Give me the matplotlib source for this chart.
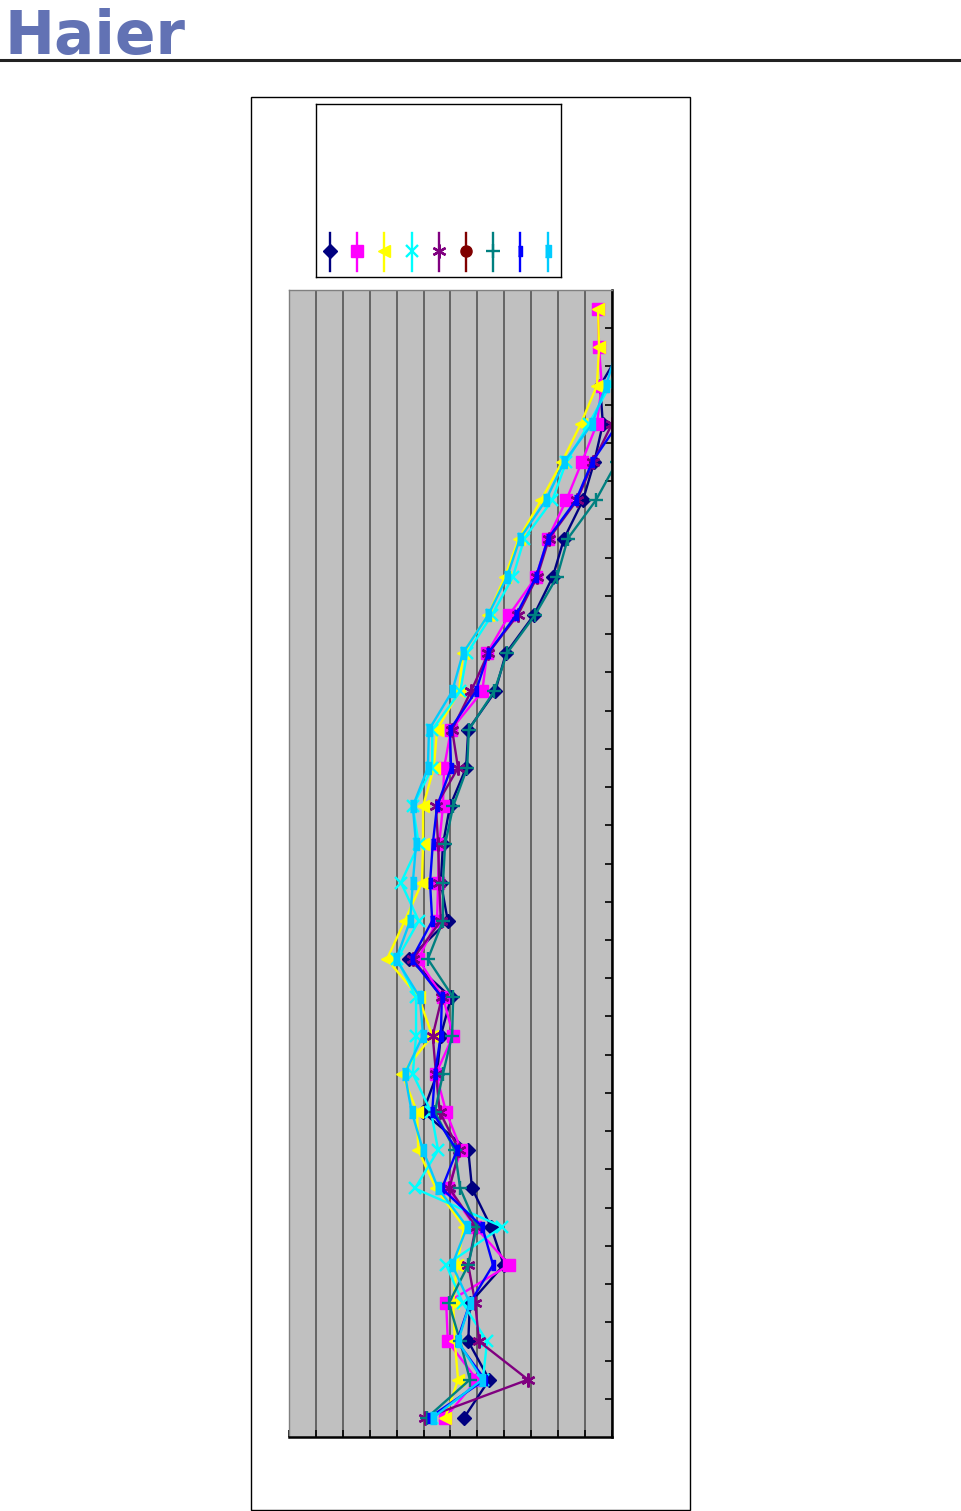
import numpy as np
import matplotlib
matplotlib.use("Agg")
import matplotlib.pyplot as plt
from matplotlib.patches import Rectangle

# 30 bands, read top to bottom (chart is drawn rotated)
bands = list(range(30))

# levels (x axis 0..60, gridline every 5)
navy = [64, 62, 57.8, 58.3, 56.7, 54.6, 51.1, 49.0, 45.5, 40.3, 38.3, 33.3, 32.9, 29.9, 28.6,
        28.2, 29.5, 22.3, 30.1, 28.2, 27.5, 24.9, 33.3, 34.0, 37.5, 39.9, 33.6, 33.3, 37.2, 32.5]
magenta = [57.4, 57.6, 58.1, 57.2, 54.4, 51.5, 48.1, 45.9, 40.9, 36.8, 35.9, 30.1, 28.8, 28.6, 27.9,
           27.7, 27.5, 24.0, 28.6, 30.5, 27.3, 29.2, 32.0, 29.5, 34.6, 40.9, 29.2, 29.5, 34.9, 29.0]
yellow = [57.4, 57.6, 57.2, 54.2, 50.7, 46.8, 42.7, 40.1, 37.0, 32.3, 31.6, 27.5, 26.9, 24.9, 24.9,
          24.7, 21.5, 18.2, 24.1, 26.6, 21.0, 23.8, 24.0, 27.3, 32.5, 31.2, 30.5, 30.8, 31.4, 29.0]
cyan = [64, 62, 59.6, 55.7, 51.5, 48.9, 43.7, 41.6, 37.7, 33.1, 31.8, 26.6, 26.6, 23.0, 24.1,
        20.8, 24.1, 20.1, 23.6, 23.6, 23.0, 26.4, 27.7, 23.4, 39.6, 29.2, 32.3, 36.8, 36.0, 26.6]
purple = [66, 65, 63, 60.0, 56.5, 53.5, 48.3, 46.1, 42.5, 37.0, 33.8, 30.3, 31.4, 27.3, 27.7,
          27.9, 28.2, 23.0, 28.4, 26.7, 27.3, 28.0, 31.6, 29.8, 34.7, 33.3, 34.6, 35.3, 44.4, 25.3]
maroon = [np.nan] * 30
teal = [68, 67, 65, 63, 60.9, 57.0, 51.8, 49.8, 45.7, 40.5, 38.1, 33.4, 33.1, 30.5, 29.0,
        28.6, 28.6, 25.8, 30.5, 30.3, 28.6, 27.1, 30.8, 31.8, 34.9, 33.3, 29.7, 31.8, 33.6, 25.6]
blue = [66, 64, 63, 61.1, 56.3, 53.3, 48.1, 45.9, 42.2, 37.0, 34.7, 29.9, 30.1, 27.5, 26.7,
        26.2, 26.6, 22.8, 28.4, 28.2, 27.1, 26.6, 31.2, 28.4, 35.9, 37.9, 33.6, 31.2, 36.4, 26.0]
lightblue = [63, 61, 58.9, 56.3, 51.1, 47.7, 42.9, 40.5, 37.0, 32.3, 30.3, 26.0, 25.8, 23.0, 23.6,
             23.0, 22.5, 19.9, 24.3, 24.9, 21.5, 22.8, 24.9, 27.7, 33.1, 30.3, 33.6, 31.4, 35.9, 26.7]

bar_s = [(-0.35, -1), (0.35, -1), (0.35, 1), (-0.35, 1)]
bar_l = [(-0.42, -1), (0.42, -1), (0.42, 1), (-0.42, 1)]

series = [
    (navy, "#000080", "D", 7, 1),
    (magenta, "#FF00FF", "s", 8, 1),
    (yellow, "#FFFF00", "<", 9, 1),
    (cyan, "#00FFFF", "x", 8, 1.7),
    (purple, "#800080", (6, 2, 0), 10, 1.7),
    (maroon, "#800000", "o", 8, 1),
    (teal, "#008080", "+", 10, 1.7),
    (blue, "#0000FF", bar_s, 7, 1),
    (lightblue, "#00CCFF", bar_l, 9, 1),
]

W, H = 962, 1511
fig = plt.figure(figsize=(W / 100, H / 100), dpi=100)

# header
fig.text(4 / W, 1 - 54 / H, "Haier", fontsize=43, fontweight="bold",
         color="#6272B4", family="DejaVu Sans", va="baseline", ha="left")
fig.add_artist(plt.Line2D([0, 1], [1 - 60 / H, 1 - 60 / H], color="#222222", lw=2.2,
                          transform=fig.transFigure))
# outer chart frame
fig.add_artist(Rectangle((251 / W, 1 - 1510 / H), 439 / W, 1413 / H, fill=False,
                         ec="black", lw=1, transform=fig.transFigure))

ax = fig.add_axes([289 / W, 1 - 1437 / H, 323 / W, 1147 / H])
ax.set_facecolor("#C0C0C0")
y = np.array(bands)
for vals, col, mk, ms, mew in series:
    ax.plot(vals, y, color=col, lw=1.7, marker=mk, ms=ms, mew=mew,
            mec=col, mfc=col)

ax.set_xlim(0, 60)
ax.set_ylim(29.5, -0.5)
ax.set_xticks(np.arange(0, 61, 5))
ax.set_yticks(np.arange(0.5, 29, 1))
ax.xaxis.grid(True, color="#555555", lw=1.2)
ax.set_axisbelow(True)
ax.tick_params(axis="x", direction="in", length=5, width=1.2, labelbottom=False)
ax.tick_params(axis="y", direction="in", length=5, width=1.2, left=False, right=True,
               labelleft=False)
for s in ["right", "bottom"]:
    ax.spines[s].set_linewidth(1.8)
for s in ["left", "top"]:
    ax.spines[s].set_color("#808080")
    ax.spines[s].set_linewidth(1)

# legend (labels missing in the source, markers only, drawn vertically)
lg = fig.add_axes([316 / W, 1 - 277 / H, 245 / W, 173 / H])
lg.set_xlim(0, 245)
lg.set_ylim(173, 0)
lg.set_xticks([])
lg.set_yticks([])
for sp in lg.spines.values():
    sp.set_linewidth(1)
for i, (vals, col, mk, ms, mew) in enumerate(series):
    xx = 14 + 27.2 * i
    lg.plot([xx, xx], [129, 167], color=col, lw=1.7)
    lg.plot([xx], [147], color=col, marker=mk, ms=ms, mew=mew, mec=col, mfc=col)

fig.savefig("out.png", dpi=100)
